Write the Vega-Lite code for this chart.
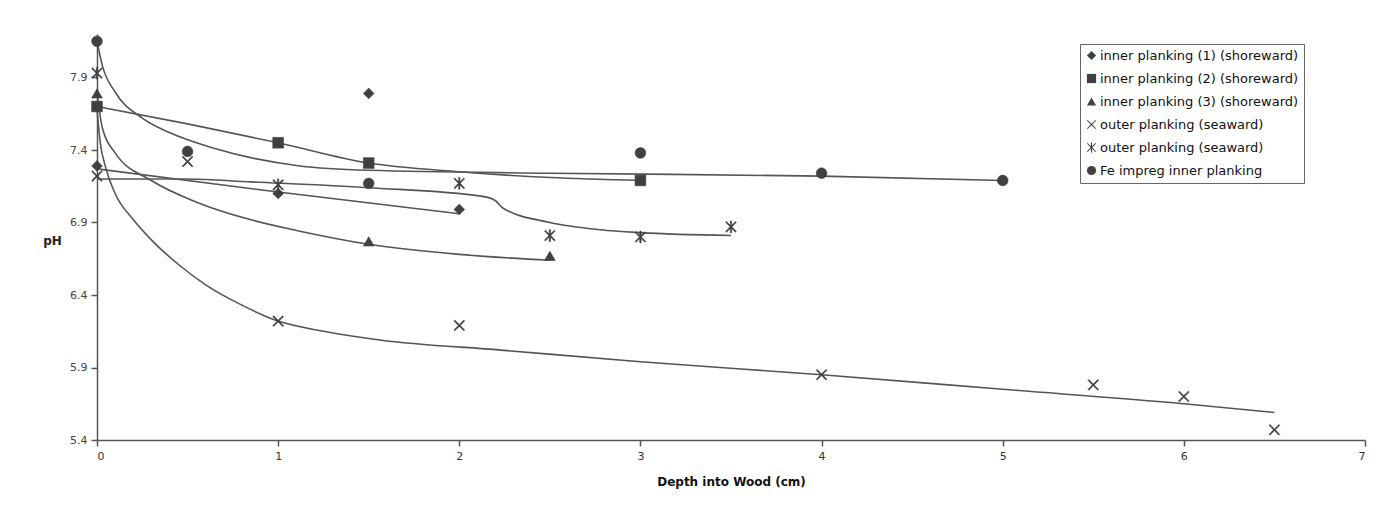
{
  "$schema": "https://vega.github.io/schema/vega-lite/v6.json",
  "autosize": "none",
  "width": 1268,
  "height": 406,
  "padding": {"left": 97, "top": 34, "right": 10, "bottom": 70},
  "background": "white",
  "config": {
    "view": {"stroke": null},
    "font": "DejaVu Sans"
  },
  "datasets": {
    "points": [
      {"series": "inner planking (1) (shoreward)", "depth": 0, "pH": 7.29},
      {"series": "inner planking (1) (shoreward)", "depth": 1, "pH": 7.10},
      {"series": "inner planking (1) (shoreward)", "depth": 1.5, "pH": 7.79},
      {"series": "inner planking (1) (shoreward)", "depth": 2, "pH": 6.99},
      {"series": "inner planking (2) (shoreward)", "depth": 0, "pH": 7.70},
      {"series": "inner planking (2) (shoreward)", "depth": 1, "pH": 7.45},
      {"series": "inner planking (2) (shoreward)", "depth": 1.5, "pH": 7.31},
      {"series": "inner planking (2) (shoreward)", "depth": 3, "pH": 7.19},
      {"series": "inner planking (3) (shoreward)", "depth": 0, "pH": 7.79},
      {"series": "inner planking (3) (shoreward)", "depth": 1.5, "pH": 6.77},
      {"series": "inner planking (3) (shoreward)", "depth": 2.5, "pH": 6.67},
      {"series": "outer planking (seaward)", "depth": 0, "pH": 7.22},
      {"series": "outer planking (seaward)", "depth": 0.5, "pH": 7.32},
      {"series": "outer planking (seaward)", "depth": 1, "pH": 6.22},
      {"series": "outer planking (seaward)", "depth": 2, "pH": 6.19},
      {"series": "outer planking (seaward)", "depth": 4, "pH": 5.85},
      {"series": "outer planking (seaward)", "depth": 5.5, "pH": 5.78},
      {"series": "outer planking (seaward)", "depth": 6, "pH": 5.70},
      {"series": "outer planking (seaward)", "depth": 6.5, "pH": 5.47},
      {"series": "outer planking (seaward)#2", "depth": 0, "pH": 7.93},
      {"series": "outer planking (seaward)#2", "depth": 1, "pH": 7.16},
      {"series": "outer planking (seaward)#2", "depth": 2, "pH": 7.17},
      {"series": "outer planking (seaward)#2", "depth": 2.5, "pH": 6.81},
      {"series": "outer planking (seaward)#2", "depth": 3, "pH": 6.80},
      {"series": "outer planking (seaward)#2", "depth": 3.5, "pH": 6.87},
      {"series": "Fe impreg inner planking", "depth": 0, "pH": 8.15},
      {"series": "Fe impreg inner planking", "depth": 0.5, "pH": 7.39},
      {"series": "Fe impreg inner planking", "depth": 1.5, "pH": 7.17},
      {"series": "Fe impreg inner planking", "depth": 3, "pH": 7.38},
      {"series": "Fe impreg inner planking", "depth": 4, "pH": 7.24},
      {"series": "Fe impreg inner planking", "depth": 5, "pH": 7.19}
    ],
    "trends": [
      {"trend": "Fe", "depth": 0, "pH": 8.15},
      {"trend": "Fe", "depth": 0.03, "pH": 7.98},
      {"trend": "Fe", "depth": 0.1, "pH": 7.8},
      {"trend": "Fe", "depth": 0.25, "pH": 7.62},
      {"trend": "Fe", "depth": 0.4, "pH": 7.52},
      {"trend": "Fe", "depth": 0.65, "pH": 7.41},
      {"trend": "Fe", "depth": 1.12, "pH": 7.29},
      {"trend": "Fe", "depth": 1.5, "pH": 7.26},
      {"trend": "Fe", "depth": 2.5, "pH": 7.24},
      {"trend": "Fe", "depth": 4, "pH": 7.22},
      {"trend": "Fe", "depth": 5, "pH": 7.19},
      {"trend": "sq", "depth": 0, "pH": 7.70},
      {"trend": "sq", "depth": 0.5, "pH": 7.58},
      {"trend": "sq", "depth": 1, "pH": 7.45},
      {"trend": "sq", "depth": 1.5, "pH": 7.31},
      {"trend": "sq", "depth": 2, "pH": 7.25},
      {"trend": "sq", "depth": 2.5, "pH": 7.21},
      {"trend": "sq", "depth": 3, "pH": 7.19},
      {"trend": "dia", "depth": 0, "pH": 7.27},
      {"trend": "dia", "depth": 1, "pH": 7.11},
      {"trend": "dia", "depth": 2, "pH": 6.96},
      {"trend": "tri", "depth": 0, "pH": 7.8},
      {"trend": "tri", "depth": 0.03, "pH": 7.55},
      {"trend": "tri", "depth": 0.1, "pH": 7.38},
      {"trend": "tri", "depth": 0.3, "pH": 7.19},
      {"trend": "tri", "depth": 0.55, "pH": 7.04},
      {"trend": "tri", "depth": 0.845, "pH": 6.92},
      {"trend": "tri", "depth": 1.12, "pH": 6.84},
      {"trend": "tri", "depth": 1.5, "pH": 6.75},
      {"trend": "tri", "depth": 2, "pH": 6.68},
      {"trend": "tri", "depth": 2.5, "pH": 6.64},
      {"trend": "x", "depth": 0, "pH": 7.68},
      {"trend": "x", "depth": 0.017, "pH": 7.46},
      {"trend": "x", "depth": 0.05, "pH": 7.27},
      {"trend": "x", "depth": 0.1, "pH": 7.1},
      {"trend": "x", "depth": 0.2, "pH": 6.92},
      {"trend": "x", "depth": 0.3, "pH": 6.78},
      {"trend": "x", "depth": 0.46, "pH": 6.6},
      {"trend": "x", "depth": 0.6, "pH": 6.47},
      {"trend": "x", "depth": 0.8, "pH": 6.33},
      {"trend": "x", "depth": 1, "pH": 6.22},
      {"trend": "x", "depth": 1.25, "pH": 6.15},
      {"trend": "x", "depth": 1.56, "pH": 6.09},
      {"trend": "x", "depth": 2.23, "pH": 6.02},
      {"trend": "x", "depth": 3, "pH": 5.94},
      {"trend": "x", "depth": 4, "pH": 5.85},
      {"trend": "x", "depth": 5, "pH": 5.75},
      {"trend": "x", "depth": 6, "pH": 5.65},
      {"trend": "x", "depth": 6.5, "pH": 5.59},
      {"trend": "star", "depth": 0, "pH": 7.2},
      {"trend": "star", "depth": 0.5, "pH": 7.2},
      {"trend": "star", "depth": 0.85, "pH": 7.18},
      {"trend": "star", "depth": 1.5, "pH": 7.14},
      {"trend": "star", "depth": 2.13, "pH": 7.08},
      {"trend": "star", "depth": 2.2, "pH": 7.05},
      {"trend": "star", "depth": 2.24, "pH": 7.0},
      {"trend": "star", "depth": 2.5, "pH": 6.9},
      {"trend": "star", "depth": 2.78, "pH": 6.85},
      {"trend": "star", "depth": 3, "pH": 6.83},
      {"trend": "star", "depth": 3.5, "pH": 6.81}
    ]
  },
  "layer": [
    {
      "data": {"name": "trends"},
      "mark": {"type": "line", "color": "#555555", "strokeWidth": 1.6, "interpolate": "monotone"},
      "encoding": {
        "x": {"field": "depth", "type": "quantitative", "scale": {"domain": [0, 7], "nice": false}},
        "y": {"field": "pH", "type": "quantitative", "scale": {"domain": [5.4, 8.2], "nice": false, "zero": false}},
        "detail": {"field": "trend"},
        "order": {"field": "depth"}
      }
    },
    {
      "data": {"name": "points"},
      "mark": {"type": "point", "filled": true, "color": "#404040", "stroke": "#404040", "strokeWidth": 0.6, "opacity": 1, "size": 115},
      "encoding": {
        "x": {
          "field": "depth", "type": "quantitative",
          "scale": {"domain": [0, 7], "nice": false},
          "axis": {
            "values": [0, 1, 2, 3, 4, 5, 6, 7],
            "format": "d",
            "grid": false,
            "domainColor": "#555555", "domainWidth": 1.5,
            "tickColor": "#555555", "tickWidth": 1.5, "tickSize": 6,
            "labelFontSize": 11, "labelColor": "#333333", "labelPadding": 4,
            "labelFont": "DejaVu Sans",
            "title": "Depth into Wood (cm)",
            "titleFont": "DejaVu Sans", "titleFontSize": 12, "titleFontWeight": "bold",
            "titleColor": "#111111", "titlePadding": 15
          }
        },
        "y": {
          "field": "pH", "type": "quantitative",
          "scale": {"domain": [5.4, 8.2], "nice": false, "zero": false},
          "axis": {
            "values": [5.4, 5.9, 6.4, 6.9, 7.4, 7.9],
            "format": ".1f",
            "grid": false,
            "domainColor": "#555555", "domainWidth": 1.5,
            "tickColor": "#555555", "tickWidth": 1.5, "tickSize": 6,
            "labelFontSize": 11, "labelColor": "#444444", "labelPadding": 4,
            "labelFont": "DejaVu Sans",
            "title": "pH",
            "titleAngle": 0, "titleAlign": "center", "titleBaseline": "middle",
            "titleX": -45, "titleY": 206,
            "titleFont": "DejaVu Sans", "titleFontSize": 12, "titleFontWeight": "bold",
            "titleColor": "#222222"
          }
        },
        "shape": {
          "field": "series", "type": "nominal",
          "scale": {
            "domain": ["inner planking (1) (shoreward)", "inner planking (2) (shoreward)", "inner planking (3) (shoreward)", "outer planking (seaward)", "outer planking (seaward)#2", "Fe impreg inner planking"],
            "range": [
              "diamond",
              "square",
              "triangle-up",
              "M-0.85,-1L0,-0.18L0.85,-1L1,-0.85L0.18,0L1,0.85L0.85,1L0,0.18L-0.85,1L-1,0.85L-0.18,0L-1,-0.85Z",
              "M-0.85,-1L0,-0.18L0.85,-1L1,-0.85L0.18,0L1,0.85L0.85,1L0,0.18L-0.85,1L-1,0.85L-0.18,0L-1,-0.85ZM-0.12,-1.1L0.12,-1.1L0.12,1.1L-0.12,1.1Z",
              "circle"
            ]
          },
          "legend": {
            "title": null,
            "orient": "none",
            "legendX": 983,
            "legendY": 10,
            "strokeColor": "#666666",
            "fillColor": "white",
            "padding": 5,
            "labelFont": "DejaVu Sans",
            "labelFontSize": 13,
            "labelColor": "#111111",
            "labelOffset": 2,
            "labelLimit": 0,
            "rowPadding": 9,
            "symbolSize": 85,
            "symbolFillColor": "#404040",
            "symbolStrokeColor": "#404040",
            "symbolStrokeWidth": 0.6,
            "labelExpr": "replace(datum.label, '#2', '')",
            "encode": {
              "symbols": {
                "update": {
                  "fill": {"value": "#404040"},
                  "stroke": {"value": "#404040"},
                  "strokeWidth": {"value": 0.6},
                  "opacity": {"value": 1}
                }
              }
            }
          }
        }
      }
    }
  ]
}
